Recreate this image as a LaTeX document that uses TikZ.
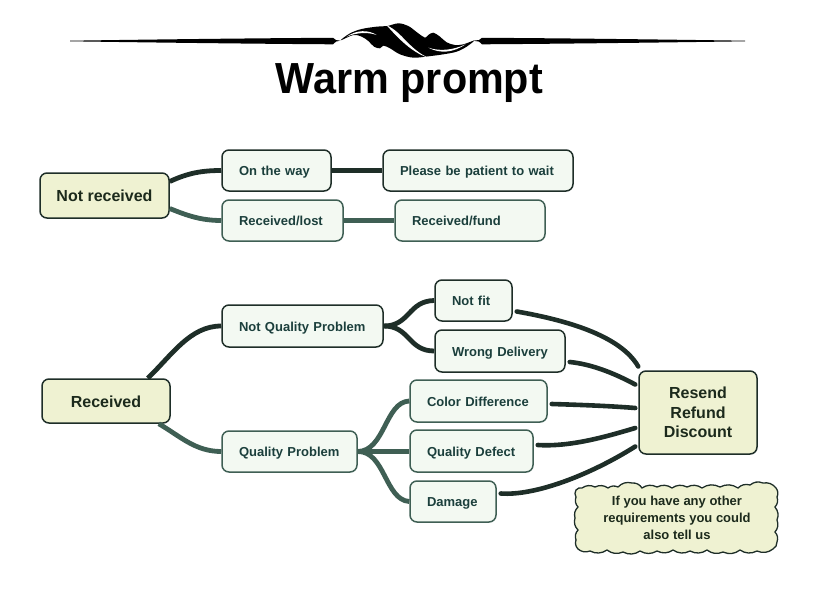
\documentclass[tikz,border=0pt]{standalone}
\usepackage{fontspec}
\setmainfont{Liberation Sans}
\definecolor{linedark}{HTML}{1E2E28}
\definecolor{lineteal}{HTML}{3F5F54}
\definecolor{kidfill}{HTML}{F3F9F2}
\definecolor{rootfill}{HTML}{EFF2D2}
\definecolor{kidtext}{HTML}{1B3F3C}
\definecolor{roottext}{HTML}{1C2A1C}
\tikzset{
  box/.style={rectangle,rounded corners=7pt,line width=1.5pt,font=\bfseries},
  kid/.style={box,fill=kidfill,text=kidtext,font=\bfseries\fontsize{13}{15}\selectfont,
    align=left,inner xsep=17pt,inner ysep=0pt,text height=10.5pt,text depth=0.5pt},
  kiddark/.style={kid,draw=linedark},
  kidteal/.style={kid,draw=lineteal},
  rootbox/.style={box,draw=linedark,fill=rootfill,text=roottext,align=center,
    font=\bfseries\fontsize{16}{19.5}\selectfont,inner sep=0pt},
  rootline/.style={rootbox,text height=12.5pt,text depth=0.5pt},
  wirebase/.style={line width=4.8pt,line cap=butt},
  wiredark/.style={wirebase,draw=linedark},
  wireteal/.style={wirebase,draw=lineteal},
  wirefree/.style={wirebase,draw=linedark,line cap=round,line width=4.6pt},
  cloudedge/.style={draw=linedark,fill=rootfill,line width=1.3pt,bend left=30},
  cloudtext/.style={text=roottext,align=center,
    font=\bfseries\fontsize{13}{16.8}\selectfont,inner sep=0pt},
}
\begin{document}
\begin{tikzpicture}[x=1pt,y=-1pt]
\useasboundingbox (0,0) rectangle (820,595);

% Heading flourish: two tapered rules
\fill[black] (70,40.7) .. controls (130,39.8) and (250,38.2) .. (333,37.8) -- (336,40) -- (340,40.7) -- (336,41.6) -- (333,44.3)
  .. controls (250,43.8) and (130,42.2) .. (70,41.3) -- cycle;
\fill[black] (745,40.7) .. controls (685,39.8) and (565,38.2) .. (482,37.8) -- (479,40) -- (473,40.7) -- (479,41.6) -- (482,44.3)
  .. controls (565,43.8) and (685,42.2) .. (745,41.3) -- cycle;

% Heading flourish: central leaf with its light streaks
\begin{scope}[shift={(300,15)},x=0.3333pt,y=-0.3333pt]
\fill[black] plot[smooth cycle,tension=0.55] coordinates {
  (122,76) (150,55) (185,42) (230,35) (262,33) (295,25) (325,33) (355,55) (375,68)
  (385,60) (400,53) (420,65) (440,82) (465,90) (490,88) (522,77)
  (500,95) (470,110) (430,118) (385,124) (340,128) (300,118) (270,100) (250,92)
  (240,100) (222,95) (205,78) (185,65) (160,60)};
\fill[white] (140,65) .. controls (170,44) and (205,44) .. (230,60) .. controls (205,51) and (170,52) .. (140,65) -- cycle;
\fill[white] (260,31) .. controls (305,50) and (325,100) .. (384,128) .. controls (335,112) and (295,70) .. (260,31) -- cycle;
\fill[white] (385,98) .. controls (420,110) and (460,105) .. (497,88) .. controls (460,113) and (420,117) .. (385,98) -- cycle;
\end{scope}

\node[anchor=base,font=\bfseries\fontsize{43.5}{50}\selectfont,text=black,inner sep=0pt] (title) at (409.5,93) {\scalebox{0.95}[1]{Warm prompt}};

% Branch of undelivered orders
\node[rootline,minimum width=129pt,minimum height=45pt] (nr) at (104.5,195.5) {Not received};
\node[kiddark,minimum width=109pt,minimum height=41pt,text width=75pt] (way) at (276.5,170.5) {On the way};
\node[kiddark,minimum width=190pt,minimum height=41pt,text width=156pt] (wait) at (478,170.5) {Please be patient to wait};
\node[kidteal,minimum width=121pt,minimum height=41pt,text width=87pt] (lost) at (282.5,220.5) {Received/lost};
\node[kidteal,minimum width=150pt,minimum height=41pt,text width=116pt] (fund) at (470,220.5) {Received/fund};

% Branch of delivered orders
\node[rootline,minimum width=128pt,minimum height=44pt] (rec) at (106,401) {Received};
\node[kiddark,minimum width=161pt,minimum height=42pt,text width=127pt] (nqp) at (302.5,326) {Not Quality Problem};
\node[kidteal,minimum width=135pt,minimum height=41pt,text width=101pt] (qp) at (289.5,451.5) {Quality Problem};
\node[kiddark,minimum width=77pt,minimum height=41pt,text width=43pt] (fit) at (473.5,300.5) {Not fit};
\node[kiddark,minimum width=130pt,minimum height=42pt,text width=96pt] (wrong) at (500,351) {Wrong Delivery};
\node[kidteal,minimum width=137pt,minimum height=42pt,text width=103pt] (color) at (478.5,401) {Color Difference};
\node[kidteal,minimum width=123pt,minimum height=42pt,text width=89pt] (defect) at (471.5,451) {Quality Defect};
\node[kidteal,minimum width=86pt,minimum height=41pt,text width=52pt] (damage) at (453,501.5) {Damage};
\node[rootbox,minimum width=118pt,minimum height=83pt] (res) at (698,412.5) {Resend\\Refund\\Discount};

% Scalloped note: arcs running clockwise, each bulging outward
\draw[cloudedge] (576,490)
  to (582,488) to (595,487) to (608,488) to (618,487) to (632,483) to (642,488) to (657,487)
  to (672,488) to (687,487) to (702,488) to (720,487) to (738,488) to (750,485) to (763,483)
  to (776,488) to (777,497) to (775,507) to (777,520) to (775,532) to (777,542) to (773,549)
  to (757,551) to (740,550) to (723,552) to (707,550) to (690,551) to (673,550) to (657,551)
  to (640,551) to (623,552) to (607,550) to (590,551) to (578,549) to (576,540) to (578,530)
  to (575,518) to (578,507) to (576,497) to (576,490) -- cycle;
\node[cloudtext] (note) at (677,518) {If you have any other\\requirements you could\\also tell us};

% Free ends of the connectors that stop short of the outcome box
\coordinate (inA) at ([xshift=0pt,yshift=46pt]res.west);
\coordinate (inB) at ([xshift=-3pt,yshift=28pt]res.west);
\coordinate (inC) at ([xshift=-3pt,yshift=4.5pt]res.west);
\coordinate (inD) at ([xshift=-3pt,yshift=-15.5pt]res.west);
\coordinate (inE) at ([xshift=-3pt,yshift=-34pt]res.west);

\draw[wiredark] ([yshift=14pt]nr.east) .. controls (188,173) and (202,170.5) .. (way.west);
\draw[wireteal] ([yshift=-13pt]nr.east) .. controls (188,216) and (202,220.5) .. (lost.west);
\draw[wiredark] (way.east) -- (wait.west);
\draw[wireteal] (lost.east) -- (fund.west);
\draw[wiredark] ([xshift=-23pt]rec.north east) .. controls (172,355) and (190,326) .. (nqp.west);
\draw[wireteal] ([xshift=-12pt]rec.south east) .. controls (180,436) and (195,451.5) .. (qp.west);
\draw[wiredark] (nqp.east) .. controls (410,326) and (408,301) .. (fit.west);
\draw[wiredark] (nqp.east) .. controls (410,326) and (408,351) .. (wrong.west);
\draw[wireteal] (qp.east) .. controls (385,451) and (385,402) .. (color.west);
\draw[wireteal] (qp.east) -- (qp.east -| defect.west);
\draw[wireteal] (qp.east) .. controls (385,451) and (385,500) .. (damage.west);
\draw[wirefree] ([xshift=4pt,yshift=-11pt]fit.east) .. controls (565,320) and (620,335) .. (inA);
\draw[wirefree] ([xshift=4pt,yshift=-11pt]wrong.east) .. controls (590,364) and (612,372) .. (inB);
\draw[wirefree] ([xshift=4pt,yshift=-3pt]color.east) .. controls (585,405) and (610,406) .. (inC);
\draw[wirefree] ([xshift=4pt,yshift=6pt]defect.east) .. controls (570,447) and (605,437) .. (inD);
\draw[wirefree] ([xshift=4pt,yshift=8pt]damage.east) .. controls (535,496) and (590,475) .. (inE);
\end{tikzpicture}
\end{document}
